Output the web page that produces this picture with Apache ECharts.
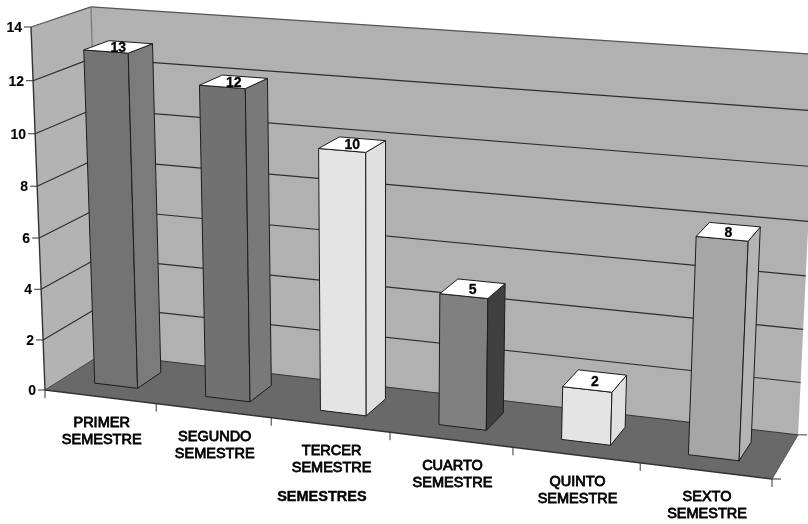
<!DOCTYPE html>
<html><head><meta charset="utf-8">
<style>html,body{margin:0;padding:0;background:#fff}#c{width:808px;height:524px}</style>
<script src="https://cdn.jsdelivr.net/npm/echarts@6/dist/echarts.min.js"></script>
</head><body><div id="c"></div>
<script>
const categories = ['PRIMER\nSEMESTRE','SEGUNDO\nSEMESTRE','TERCER\nSEMESTRE','CUARTO\nSEMESTRE','QUINTO\nSEMESTRE','SEXTO\nSEMESTRE'];
const values = [13,12,10,5,2,8];
const yTicks = [0,2,4,6,8,10,12,14];
const axisTitle = 'SEMESTRES';
const frontColors = ['#737373','#717171','#e4e4e4','#808080','#e4e4e4','#a6a6a6'];
const sideColors  = ['#7b7b7b','#797979','#e0e0e0','#404040','#e0e0e0','#b4b4b4'];

const W = 808, H = 524, YMAX = 14, NCAT = categories.length;
const FONT = '"Liberation Sans", Arial, sans-serif';
const BAR_U = [0.30, 0.69], BAR_D = [0.29, 0.72];

// Perspective camera: unit box (u along categories, v along values, d into depth) to the page
const persp = {a:-0.0967, b:-0.04, c:0.048};
function project(u, v, d) {
  const {a,b,c} = persp;
  const w = 1 + a*u + b*v + c*d;
  const x = 45 + (772*(1+a)-45)*u + (31*(1+b)-45)*v + (102*(1+c)-45)*d;
  const y = 390 + (479*(1+a)-390)*u + (27*(1+b)-390)*v + (354*(1+c)-390)*d;
  return [x/w, y/w];
}
// category position + band fraction and value go through the hidden cartesian axes
function pt(api, cat, frac, val, d) {
  const c = api.coord([cat, val]);
  const band = api.size([1,0])[0];
  return project((c[0] - band/2 + frac*band)/W, 1 - c[1]/H, d);
}
const poly = (points, fill, stroke, lw) => ({type:'polygon', shape:{points}, style:{fill, stroke:stroke||'none', lineWidth:lw||0}});
const line = (p, q, stroke, lw) => ({type:'line', shape:{x1:p[0],y1:p[1],x2:q[0],y2:q[1]}, style:{stroke, lineWidth:lw||1.2}});
const txt = (x, y, s, align, size, weight, sw) => ({type:'text', x, y, style:{text:s, fill:'#000', stroke:'#000', lineWidth:sw||0,
  font:(weight||'normal')+' '+size+'px '+FONT, align, verticalAlign:'middle', lineHeight:17}});

function renderWalls(params, api) {
  const L = NCAT-1;
  const a = pt(api,0,0,0,0), b = pt(api,L,1,0,0), c = pt(api,L,1,0,1), e = pt(api,0,0,0,1);
  const at = pt(api,0,0,YMAX,0), ct = pt(api,L,1,YMAX,1), et = pt(api,0,0,YMAX,1);
  return {type:'group', children:[
    poly([e,c,ct,et],'#b1b1b1'),
    poly([a,e,et,at],'#b3b3b3'),
    poly([a,b,c,e],'#696969'),
    line(at,et,'#555',1.2), line(et,ct,'#555',1.2), line(e,et,'#777',1.2),
    line(a,at,'#333',1.4), line(a,b,'#333',1.4), line(e,c,'#333',1), line(b,c,'#555',1), line(a,e,'#444',1),
    line(c,[c[0]+9,c[1]],'#444',1), line(b,[b[0]+9,b[1]],'#333',1), line(b,[b[0],b[1]+8],'#333',1)
  ]};
}
function renderGrid(params, api) {
  const t = api.value(1), L = NCAT-1;
  const f = pt(api,0,0,t,0), g = pt(api,0,0,t,1), r = pt(api,L,1,t,1);
  const ch = [line([f[0]-7,f[1]],f,'#333',1), txt(f[0]-9,f[1]+1,String(t),'right',14,'bold',0.1)];
  if (t > 0 && t < YMAX) ch.unshift(line(f,g,'#2e2e2e',1.2), line(g,r,'#2e2e2e',1.2));
  return {type:'group', children:ch};
}
function renderBars(params, api) {
  const i = api.value(0), v = api.value(1);
  const [u0,u1] = BAR_U, [d0,d1] = BAR_D;
  const fb0 = pt(api,i,u0,0,d0), fb1 = pt(api,i,u1,0,d0), bb1 = pt(api,i,u1,0,d1);
  const ft0 = pt(api,i,u0,v,d0), ft1 = pt(api,i,u1,v,d0), bt1 = pt(api,i,u1,v,d1), bt0 = pt(api,i,u0,v,d1);
  const cx = (ft0[0]+ft1[0]+bt1[0]+bt0[0])/4, cy = (ft0[1]+ft1[1]+bt1[1]+bt0[1])/4;
  return {type:'group', children:[
    poly([fb0,fb1,ft1,ft0],frontColors[i],'#1c1c1c',1),
    poly([fb1,bb1,bt1,ft1],sideColors[i],'#1c1c1c',1),
    poly([ft0,ft1,bt1,bt0],'#ffffff','#1c1c1c',1),
    txt(cx,cy+1,String(v),'center',14,'bold',0.3)
  ]};
}
function renderCatLabels(params, api) {
  const i = api.value(0);
  const tick = pt(api,i,1,0,0), mid = pt(api,i,0.5,0,0);
  const ch = [txt(mid[0]+1.5,mid[1]+35,categories[i],'center',14.5,'normal',0.8)];
  if (i < NCAT-1) ch.push(line(tick,[tick[0],tick[1]+8],'#333',1));
  else { const o = pt(api,0,0,0,0); ch.push(line(o,[o[0],o[1]+8],'#333',1)); }
  return {type:'group', children:ch};
}

const chart = echarts.init(document.getElementById('c'), null, {renderer:'canvas'});
chart.setOption({
  animation:false, backgroundColor:'#fff',
  grid:{left:0, top:0, width:W, height:H},
  xAxis:{type:'category', data:categories, show:false},
  yAxis:{type:'value', min:0, max:YMAX, interval:2, show:false},
  series:[
    {type:'custom', z:1, data:[[0,0]], renderItem:renderWalls, silent:true},
    {type:'custom', z:2, data:yTicks.map(t=>[0,t]), encode:{x:0,y:1}, renderItem:renderGrid, silent:true},
    {type:'custom', z:3, data:values.map((v,i)=>[i,v]), encode:{x:0,y:1}, renderItem:renderBars, silent:true},
    {type:'custom', z:4, data:categories.map((c,i)=>[i,0]), encode:{x:0,y:1}, renderItem:renderCatLabels, silent:true}
  ],
  graphic:[{type:'text', left:277, top:489, style:{text:axisTitle, fill:'#000', stroke:'#000', lineWidth:0.4, font:'bold 14.5px '+FONT}}]
});
</script></body></html>
